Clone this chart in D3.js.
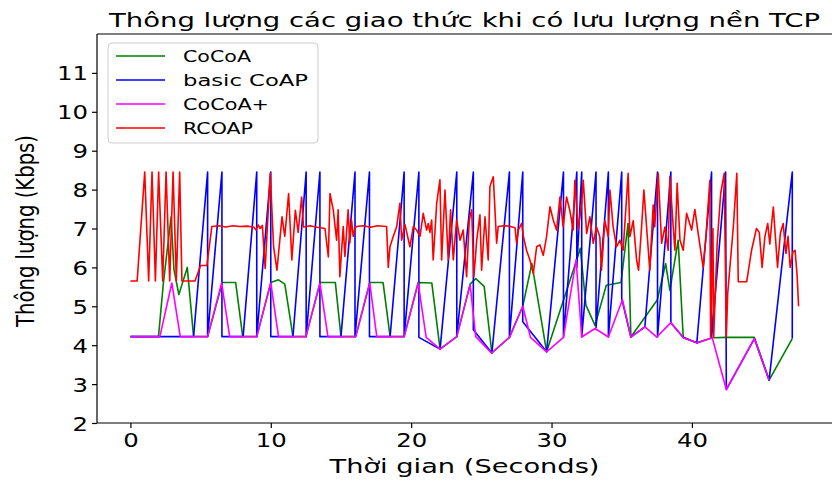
<!DOCTYPE html>
<html><head><meta charset="utf-8">
<script src="https://cdn.jsdelivr.net/npm/d3@7"></script>
<style>
body{margin:0;background:#fff}
text{font-family:"DejaVu Sans",sans-serif;fill:#000}
</style>
</head><body>
<svg id="chart" width="832" height="483"></svg>
<script>
// Throughput (Kbps) over time (s) for four CoAP congestion-control variants
const seriesNames = ["CoCoA", "basic CoAP", "CoCoA+", "RCOAP"];
const seriesColors = ["#008000", "#0000ff", "#ff00ff", "#ff0000"];
const xTicks = [0, 10, 20, 30, 40];
const yTicks = [2, 3, 4, 5, 6, 7, 8, 9, 10, 11];

const cocoa = [
  [0,4.22],[2.0,4.22],[2.35,5.6],[2.9,7.3],[3.1,5.95],[3.45,5.3],[4.05,6.0],[4.5,4.22],[5.5,4.22],
  [6.55,5.61],[7.5,5.61],[8.0,4.22],[9.0,4.22],[10.0,5.61],[10.55,5.68],[11.0,5.57],[11.58,4.22],
  [12.5,4.22],[13.52,5.61],[14.6,5.61],[15.0,4.22],[16.05,4.22],[17.05,5.61],[18.0,5.61],[18.5,4.22],
  [19.5,4.22],[20.5,5.61],[21.47,5.6],[22.06,3.9],[23.25,4.22],[24.2,5.57],[24.6,5.71],[25.2,5.51],
  [25.75,3.8],[27.0,4.2],[27.95,5.0],[28.6,6.1],[29.65,3.83],[31.8,6.2],[32.05,6.49],
  [32.45,5.03],[33.1,4.51],[33.9,5.54],[34.95,5.61],[35.45,7.13],[35.65,4.21],[37.53,5.16],[38.13,6.1],
  [38.43,5.41],[39.02,6.7],[39.38,4.21],[40.35,4.06],[41.45,4.19],[42.45,4.2],[44.45,4.2],[45.5,3.1],[47.15,4.17]
];

const basicCoap = [
  [0,4.22],[4.5,4.22],[5.5,8.45],[5.5,4.22],[6.52,8.45],[6.52,4.22],[8.03,4.22],[9.0,8.45],[9.0,4.22],
  [10.0,8.45],[10.0,4.22],[11.58,4.22],[12.52,8.45],[12.52,4.22],[13.5,8.45],[13.5,4.22],[15.0,4.22],
  [16.0,8.45],[16.0,4.22],[17.03,8.45],[17.03,4.22],[18.5,4.22],[19.5,8.45],[19.5,4.22],[20.55,8.45],
  [20.55,4.2],[22.06,3.9],[23.25,8.45],[23.25,4.22],[24.43,8.45],[24.43,4.4],[25.75,3.8],[27.0,8.45],
  [27.0,4.2],[27.95,8.45],[27.95,4.6],[29.65,3.83],[30.85,8.45],[30.85,4.2],[31.8,8.45],[31.8,6.0],
  [32.15,8.45],[32.15,4.21],[33.17,8.45],[33.17,4.45],[34.05,8.45],[34.05,4.21],[35.0,8.45],[35.0,5.2],
  [35.65,4.21],[36.65,4.47],[37.55,8.45],[37.55,4.21],[38.5,8.45],[38.5,4.58],[39.4,4.19],[40.35,4.06],
  [41.4,8.45],[41.4,4.19],[42.4,8.45],[42.45,2.86],[44.45,4.17],[45.5,3.1],[47.15,8.45],[47.15,4.17]
];

const cocoaPlus = [
  [0,4.22],[2.1,4.22],[2.95,5.6],[3.55,4.22],[5.5,4.22],[6.5,5.6],[7.07,4.22],[9.0,4.22],[10.0,5.6],
  [10.55,4.22],[12.5,4.22],[13.5,5.6],[14.07,4.22],[16.05,4.22],[17.05,5.6],[17.55,4.22],[19.5,4.22],
  [20.5,5.6],[21.07,4.2],[22.06,3.9],[23.25,4.22],[24.2,5.55],[24.6,4.22],[25.72,3.8],[27.0,4.2],
  [27.95,5.0],[28.5,4.2],[29.65,3.83],[30.85,4.2],[31.75,6.2],[32.15,4.21],[33.1,4.43],[34.05,4.21],
  [35.05,5.17],[35.65,4.21],[36.65,4.47],[37.5,4.21],[38.5,4.58],[39.4,4.19],[40.35,4.06],[41.45,4.19],
  [42.45,2.86],[44.45,4.17],[45.5,3.1]
];

const rcoap = [
  [0,5.65],[0.48,5.65],[1.02,8.45],[1.3,5.65],[1.54,8.45],[1.78,5.65],[2.01,8.45],[2.3,5.65],[2.54,8.45],
  [2.8,5.65],[3.04,8.45],[3.27,5.65],[3.51,8.45],[3.67,5.65],[4.6,5.65],[5.0,6.05],[5.45,6.05],[5.8,7.05],
  [6.3,7.07],[6.8,7.04],[7.3,7.07],[7.8,7.05],[8.3,7.06],[8.78,7.04],[8.95,6.96],[9.1,7.09],[9.25,7.0],
  [9.4,7.08],[9.6,5.97],[9.96,8.42],[10.2,6.53],[10.44,5.93],[10.8,7.3],[11.0,6.8],[11.27,7.9],[11.5,6.19],
  [11.75,7.47],[11.95,6.9],[12.2,7.81],[12.33,7.04],[12.8,7.07],[13.3,7.03],[13.86,7.0],[14.1,6.27],
  [14.22,7.9],[14.45,7.48],[14.69,6.7],[14.8,7.48],[14.92,5.76],[15.16,7.05],[15.28,6.28],[15.51,7.48],
  [15.63,6.62],[15.75,7.22],[15.87,6.8],[15.99,7.0],[16.1,7.05],[16.6,7.07],[17.1,7.03],[17.6,7.07],
  [18.25,7.05],[18.37,6.0],[18.49,6.53],[18.73,6.8],[18.97,7.05],[19.2,7.65],[19.32,6.7],[19.56,7.1],
  [19.91,6.53],[20.15,7.05],[20.39,6.96],[20.63,6.8],[20.86,7.39],[21.1,6.96],[21.22,7.13],[21.34,6.9],
  [21.46,7.22],[21.57,6.19],[21.82,7.65],[22.05,8.25],[22.17,6.19],[22.41,7.99],[22.64,6.19],[22.81,7.48],
  [23.0,6.19],[23.24,7.22],[23.48,6.7],[23.71,6.96],[23.95,5.76],[24.14,7.22],[24.31,7.48],[24.47,5.76],
  [24.67,6.7],[24.9,7.35],[25.02,5.93],[25.26,7.3],[25.49,6.19],[25.61,8.08],[25.85,8.33],[26.09,6.62],
  [26.2,7.05],[26.6,7.07],[27.0,7.06],[27.4,7.02],[27.51,6.62],[27.63,6.96],[27.87,7.13],[27.99,6.8],
  [28.22,6.44],[28.46,6.19],[28.7,5.84],[28.94,6.53],[29.17,6.58],[29.41,6.31],[29.65,6.8],[29.89,7.56],
  [30.12,7.22],[30.36,6.96],[30.6,7.81],[30.83,7.04],[31.07,7.81],[31.3,7.47],[31.54,6.96],[31.66,8.24],
  [31.9,6.96],[32.14,7.64],[32.26,8.24],[32.5,6.87],[32.73,7.3],[32.97,6.62],[33.2,7.04],[33.44,6.79],
  [33.56,5.93],[33.8,7.2],[34.04,6.79],[34.16,7.99],[34.39,7.04],[34.63,6.53],[34.87,6.7],[35.1,6.44],
  [35.46,8.42],[35.58,6.79],[35.82,7.2],[36.06,6.19],[36.2,5.93],[36.4,6.96],[36.58,7.99],[36.8,6.9],
  [37.0,5.93],[37.24,7.6],[37.35,7.04],[37.6,8.42],[37.84,6.62],[38.08,7.04],[38.31,6.44],[38.43,8.33],
  [38.67,7.04],[38.79,6.44],[38.95,8.16],[39.15,6.7],[39.38,6.44],[39.62,7.39],[39.98,6.96],[40.21,7.49],
  [40.45,6.87],[40.8,6.0],[41.0,6.8],[41.28,8.24],[41.33,4.21],[41.5,7.0],[41.55,4.21],[41.8,6.62],
  [42.05,7.9],[42.3,8.42],[42.45,4.21],[42.55,5.33],[42.75,6.19],[42.95,7.04],[43.2,8.42],[43.3,5.63],
  [43.9,5.63],[44.25,6.44],[44.6,7.0],[44.8,6.9],[45.0,6.0],[45.2,6.79],[45.4,7.13],[45.55,6.6],[45.7,7.2],
  [45.8,7.55],[46.1,6.0],[46.3,6.87],[46.5,7.13],[46.7,6.36],[46.85,6.8],[47.0,6.0],[47.2,6.4],[47.35,6.44],
  [47.5,5.76],[47.6,5.0]
];

const allSeries = [cocoa, basicCoap, cocoaPlus, rcoap];

const svg = d3.select("#chart");
const plot = {left: 97, right: 832, top: 34, bottom: 423};

const x = d3.scaleLinear().domain([-2.38, 49.98]).range([plot.left, plot.right]);
const y = d3.scaleLinear().domain([2, 12]).range([plot.bottom, plot.top]);

// data lines
const line = d3.line().x(d => x(d[0])).y(d => y(d[1]));
svg.append("clipPath").attr("id", "clip").append("rect")
  .attr("x", plot.left).attr("y", plot.top)
  .attr("width", plot.right - plot.left).attr("height", plot.bottom - plot.top);
const lines = svg.append("g").attr("clip-path", "url(#clip)");
allSeries.forEach((s, i) => {
  lines.append("path").datum(s)
    .attr("d", line)
    .attr("fill", "none")
    .attr("stroke", seriesColors[i])
    .attr("stroke-width", 1.6)
    .attr("stroke-linejoin", "round");
});

// frame
svg.append("line").attr("x1", plot.left).attr("x2", plot.right)
  .attr("y1", plot.top).attr("y2", plot.top).attr("stroke", "#000").attr("stroke-width", 1.2);

const xAxis = svg.append("g").attr("transform", `translate(0,${plot.bottom})`)
  .call(d3.axisBottom(x).tickValues(xTicks).tickSize(5).tickPadding(4).tickSizeOuter(0));
const yAxis = svg.append("g").attr("transform", `translate(${plot.left},0)`)
  .call(d3.axisLeft(y).tickValues(yTicks).tickSize(5).tickPadding(4).tickSizeOuter(0));
[xAxis, yAxis].forEach(a => {
  a.select(".domain").attr("stroke", "#000").attr("stroke-width", 1.2);
  a.selectAll(".tick line").attr("stroke", "#000").attr("stroke-width", 1.2);
  a.selectAll(".tick text").attr("font-size", 19.5).attr("font-family", "DejaVu Sans");
});
xAxis.select(".domain").attr("d", `M${plot.left},0H${plot.right}`);
yAxis.select(".domain").attr("d", `M0,${plot.bottom}V${plot.top}`);
// horizontally widened tick labels
xAxis.selectAll(".tick text").attr("transform", "scale(1.25,1)").attr("dy", "0.75em");
yAxis.selectAll(".tick text").attr("transform", "scale(1.25,1)").attr("x", -9 / 1.25).attr("dy", "0.36em");

// title and axis labels
svg.append("text").attr("x", 464.5).attr("y", 27).attr("text-anchor", "middle")
  .attr("font-size", 20).attr("textLength", 711).attr("lengthAdjust", "spacingAndGlyphs")
  .text("Thông lượng các giao thức khi có lưu lượng nền TCP");
svg.append("text").attr("x", 464.5).attr("y", 473).attr("text-anchor", "middle")
  .attr("font-size", 19.5).attr("textLength", 270).attr("lengthAdjust", "spacingAndGlyphs")
  .text("Thời gian (Seconds)");
svg.append("text").attr("transform", "translate(34,231) scale(1.25,1) rotate(-90)").attr("text-anchor", "middle")
  .attr("font-size", 19.5).attr("textLength", 192).attr("lengthAdjust", "spacingAndGlyphs")
  .text("Thông lượng (Kbps)");

// legend
const lg = svg.append("g");
lg.append("rect").attr("x", 108).attr("y", 43).attr("width", 210).attr("height", 100)
  .attr("rx", 4).attr("fill", "#fff").attr("fill-opacity", 0.8)
  .attr("stroke", "#cccccc").attr("stroke-width", 1);
const legendWidths = [68, 125, 86, 70];
seriesNames.forEach((name, i) => {
  const yy = 56 + i * 24;
  lg.append("line").attr("x1", 116).attr("x2", 165).attr("y1", yy).attr("y2", yy)
    .attr("stroke", seriesColors[i]).attr("stroke-width", 1.5);
  lg.append("text").attr("x", 183).attr("y", yy + 6).attr("font-size", 16.5)
    .attr("textLength", legendWidths[i]).attr("lengthAdjust", "spacingAndGlyphs")
    .text(name);
});
</script>
</body></html>
